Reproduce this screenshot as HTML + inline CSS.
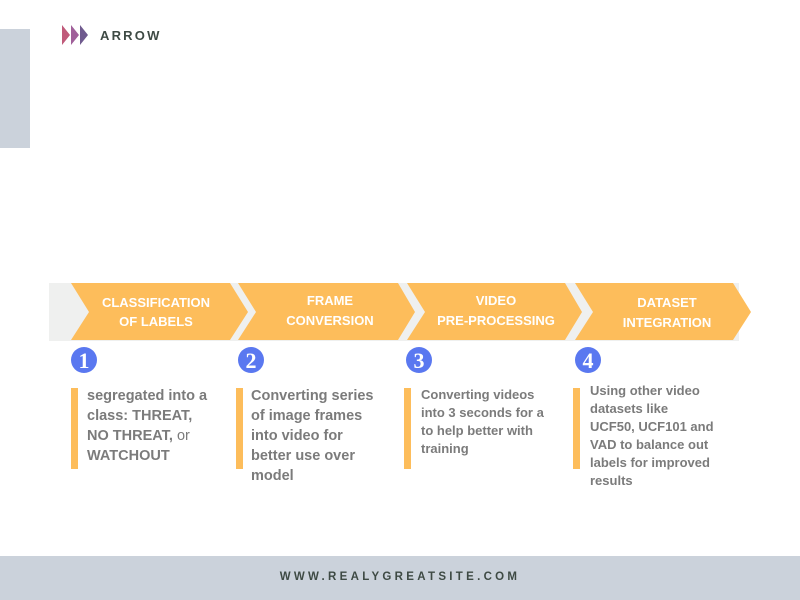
<!DOCTYPE html>
<html><head><style>
body{margin:0;width:800px;height:600px;position:relative;background:#fff;font-family:"Liberation Sans",sans-serif;overflow:hidden}
.t{position:absolute;color:#7b7b7b;font-weight:bold;font-size:14.5px;line-height:20px}
.bar{position:absolute;width:7px;background:#fdbd5b}
</style></head><body>
<div style="position:absolute;left:0;top:29px;width:30px;height:119px;background:#cbd2db"></div>
<svg width="800" height="600" style="position:absolute;left:0;top:0">
<polygon points="62,25 70,35 62,45" fill="#c05a7a"/>
<polygon points="71,25 79,35 71,45" fill="#a0609a"/>
<polygon points="80,25 88,35 80,45" fill="#6f5a8e"/>
<text x="100" y="40" font-family="Liberation Sans" font-weight="bold" font-size="13" letter-spacing="2.2" fill="#3e4a44">ARROW</text>
<rect x="49" y="283" width="690" height="58" fill="#eff0ef"/>
<polygon points="71,283 230,283 248,312 230,340 71,340 89,312" fill="#fdbd5b"/>
<polygon points="238,283 398,283 415,312 398,340 238,340 256,312" fill="#fdbd5b"/>
<polygon points="407,283 565,283 582,312 565,340 407,340 425,312" fill="#fdbd5b"/>
<polygon points="575,283 733,283 751,312 733,340 575,340 593,312" fill="#fdbd5b"/>
<g font-family="Liberation Sans" font-weight="bold" font-size="13" fill="#fff" text-anchor="middle">
<text x="156" y="307">CLASSIFICATION</text><text x="156" y="326">OF LABELS</text>
<text x="330" y="305">FRAME</text><text x="330" y="325">CONVERSION</text>
<text x="496" y="305">VIDEO</text><text x="496" y="325">PRE-PROCESSING</text>
<text x="667" y="307">DATASET</text><text x="667" y="327">INTEGRATION</text>
</g>
<g fill="#5a78f0"><circle cx="84" cy="360" r="13"/><circle cx="251" cy="360" r="13"/><circle cx="419" cy="360" r="13"/><circle cx="588" cy="360" r="13"/></g>
<g font-family="Liberation Serif" font-weight="bold" font-size="22" fill="#fff" text-anchor="middle">
<text x="84" y="368">1</text><text x="251" y="368">2</text><text x="419" y="368">3</text><text x="588" y="368">4</text>
</g>
</svg>
<div class="bar" style="left:71px;top:388px;height:81px"></div>
<div class="bar" style="left:236px;top:388px;height:81px"></div>
<div class="bar" style="left:404px;top:388px;height:81px"></div>
<div class="bar" style="left:573px;top:388px;height:81px"></div>
<div class="t" style="left:87px;top:386px">segregated into a<br>class: THREAT,<br>NO THREAT, <span style="font-weight:normal">or</span><br>WATCHOUT</div>
<div class="t" style="left:251px;top:386px">Converting series<br>of image frames<br>into video for<br>better use over<br>model</div>
<div class="t" style="left:421px;top:386px;font-size:13px;line-height:18px">Converting videos<br>into 3 seconds for a<br>to help better with<br>training</div>
<div class="t" style="left:590px;top:382px;font-size:13px;line-height:18px">Using other video<br>datasets like<br>UCF50, UCF101 and<br>VAD to balance out<br>labels for improved<br>results</div>
<div style="position:absolute;left:0;top:556px;width:800px;height:44px;background:#cbd2db"></div>
<div style="position:absolute;left:0;top:571px;width:800px;text-align:center;font-size:11.5px;font-weight:bold;letter-spacing:3.3px;color:#3e4a44">WWW.REALYGREATSITE.COM</div>
</body></html>
